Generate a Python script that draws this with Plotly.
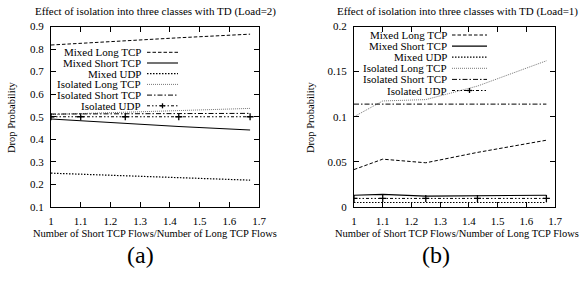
import plotly.graph_objects as go

# ---------------- data ----------------
ratios = [1.0, 1.1, 1.25, 1.43, 1.67]
series_names = ["Mixed Long TCP", "Mixed Short TCP", "Mixed UDP",
                "Isolated Long TCP", "Isolated Short TCP", "Isolated UDP"]

# (a) Load = 2
a_mixed_long = [0.818, 0.826, 0.838, 0.850, 0.866]
a_mixed_short = [0.490, 0.482, 0.470, 0.457, 0.441]
a_mixed_udp = [0.250, 0.245, 0.237, 0.229, 0.219]
a_iso_long = [0.510, 0.514, 0.520, 0.528, 0.537]
a_iso_short = [0.512, 0.513, 0.513, 0.514, 0.515]
a_iso_udp = [0.500, 0.500, 0.500, 0.500, 0.500]

# (b) Load = 1
b_mixed_long = [0.0415, 0.053, 0.049, 0.0605, 0.074]
b_mixed_short = [0.0130, 0.0140, 0.0120, 0.0125, 0.0130]
b_mixed_udp = [0.005, 0.005, 0.005, 0.005, 0.005]
b_iso_long = [0.100, 0.1175, 0.119, 0.134, 0.162]
b_iso_short = [0.114, 0.114, 0.114, 0.114, 0.114]
b_iso_udp = [0.0095, 0.0095, 0.0095, 0.0095, 0.0095]

titles = ["Effect of isolation into three classes with TD (Load=2)",
          "Effect of isolation into three classes with TD (Load=1)"]
x_title = "Number of Short TCP Flows/Number of Long TCP Flows"
y_title = "Drop Probability"
panel_labels = ["(a)", "(b)"]

# ---------------- styling ----------------
W, H = 584, 281
FONT = "Liberation Serif"
styles = [
    dict(color="black", width=1, dash="3.5px,2px"),
    dict(color="black", width=1.1, dash="solid"),
    dict(color="black", width=1.2, dash="1.5px,1.5px"),
    dict(color="#777777", width=1, dash="1px,1px"),
    dict(color="black", width=1, dash="5px,2px,1.5px,2px"),
    dict(color="black", width=1, dash="3px,2px,1.5px,2px,1.5px,2px"),
]

def px(x):
    return x / W

def py(y):
    return 1 - y / H

panels = [
    dict(xd=[px(51), px(259)], yd=[py(207), py(26.5)], yr=[0.1, 0.9], dt=0.1,
         data=[a_mixed_long, a_mixed_short, a_mixed_udp, a_iso_long, a_iso_short, a_iso_udp],
         leg_text_x=143, leg_s0=147, leg_s1=178, leg_y0=52.3, leg_dy=10.7,
         title_x=155, xt_x=155, yt_x=11, lab_x=140),
    dict(xd=[px(354), px(555)], yd=[py(207), py(26.5)], yr=[0, 0.2], dt=0.05,
         data=[b_mixed_long, b_mixed_short, b_mixed_udp, b_iso_long, b_iso_short, b_iso_udp],
         leg_text_x=449, leg_s0=452, leg_s1=487, leg_y0=35, leg_dy=11.1,
         title_x=457, xt_x=457, yt_x=310, lab_x=436),
]

fig = go.Figure()
annotations = []
shapes = []

for i, p in enumerate(panels):
    sfx = "" if i == 0 else str(i + 1)
    xa, ya = "x" + sfx, "y" + sfx
    for k, (name, vals) in enumerate(zip(series_names, p["data"])):
        st = styles[k]
        mode = "lines+markers" if k == 5 else "lines"
        fig.add_trace(go.Scatter(
            x=ratios, y=vals, name=name, mode=mode, xaxis=xa, yaxis=ya,
            line=st, showlegend=False,
            marker=dict(symbol="cross-thin", size=5, color="black",
                        line=dict(color="black", width=1.3)) if k == 5 else None,
        ))
        # manual legend (text on the left, sample on the right)
        ly = p["leg_y0"] + k * p["leg_dy"]
        annotations.append(dict(
            x=px(p["leg_text_x"]), y=py(ly), xref="paper", yref="paper",
            text=name, showarrow=False, xanchor="right", yanchor="middle",
            font=dict(family=FONT, size=11, color="black")))
        shapes.append(dict(type="line", xref="paper", yref="paper",
                           x0=px(p["leg_s0"]), x1=px(p["leg_s1"]),
                           y0=py(ly), y1=py(ly), line=st))
        if k == 5:
            cx = (p["leg_s0"] + p["leg_s1"]) / 2
            shapes.append(dict(type="line", xref="paper", yref="paper",
                               x0=px(cx - 2.5), x1=px(cx + 2.5), y0=py(ly), y1=py(ly),
                               line=dict(color="black", width=1.3)))
            shapes.append(dict(type="line", xref="paper", yref="paper",
                               x0=px(cx), x1=px(cx), y0=py(ly - 2.5), y1=py(ly + 2.5),
                               line=dict(color="black", width=1.3)))

    axis_common = dict(showline=True, linecolor="black", linewidth=1.3, mirror="ticks",
                       ticks="inside", ticklen=5, tickwidth=1, tickcolor="black",
                       showgrid=False, zeroline=False, automargin=False,
                       tickfont=dict(family=FONT, size=11, color="black"))
    fig.update_layout(**{
        "xaxis" + sfx: dict(domain=p["xd"], range=[1, 1.7], dtick=0.1, tick0=1,
                            anchor=ya, ticklabelstandoff=4, **axis_common),
        "yaxis" + sfx: dict(domain=p["yd"], range=p["yr"], dtick=p["dt"], tick0=0,
                            anchor=xa, ticklabelstandoff=4, **axis_common),
    })

    annotations.append(dict(x=px(p["title_x"]), y=py(12), xref="paper", yref="paper",
                            text=titles[i], showarrow=False, xanchor="center", yanchor="middle",
                            font=dict(family=FONT, size=11, color="black")))
    annotations.append(dict(x=px(p["xt_x"]), y=py(233), xref="paper", yref="paper",
                            text=x_title, showarrow=False, xanchor="center", yanchor="middle",
                            font=dict(family=FONT, size=10.5, color="black")))
    annotations.append(dict(x=px(p["yt_x"]), y=py(117), xref="paper", yref="paper",
                            text=y_title, showarrow=False, xanchor="center", yanchor="middle",
                            textangle=-90, font=dict(family=FONT, size=10.5, color="black")))
    annotations.append(dict(x=px(p["lab_x"]), y=py(255), xref="paper", yref="paper",
                            text=panel_labels[i], showarrow=False, xanchor="center", yanchor="middle",
                            font=dict(family=FONT, size=24, color="black")))

fig.update_layout(width=W, height=H, margin=dict(l=0, r=0, t=0, b=0, pad=0, autoexpand=False),
                  paper_bgcolor="white", plot_bgcolor="white",
                  annotations=annotations, shapes=shapes, showlegend=False)

fig.write_html("out.html", config={"displayModeBar": False})

# remove the browser's default 8px body margin so the figure sits at (0, 0)
with open("out.html", "r", encoding="utf-8") as f:
    html = f.read()
html = html.replace("<body>", '<body style="margin:0;padding:0;overflow:hidden">', 1)
with open("out.html", "w", encoding="utf-8") as f:
    f.write(html)
